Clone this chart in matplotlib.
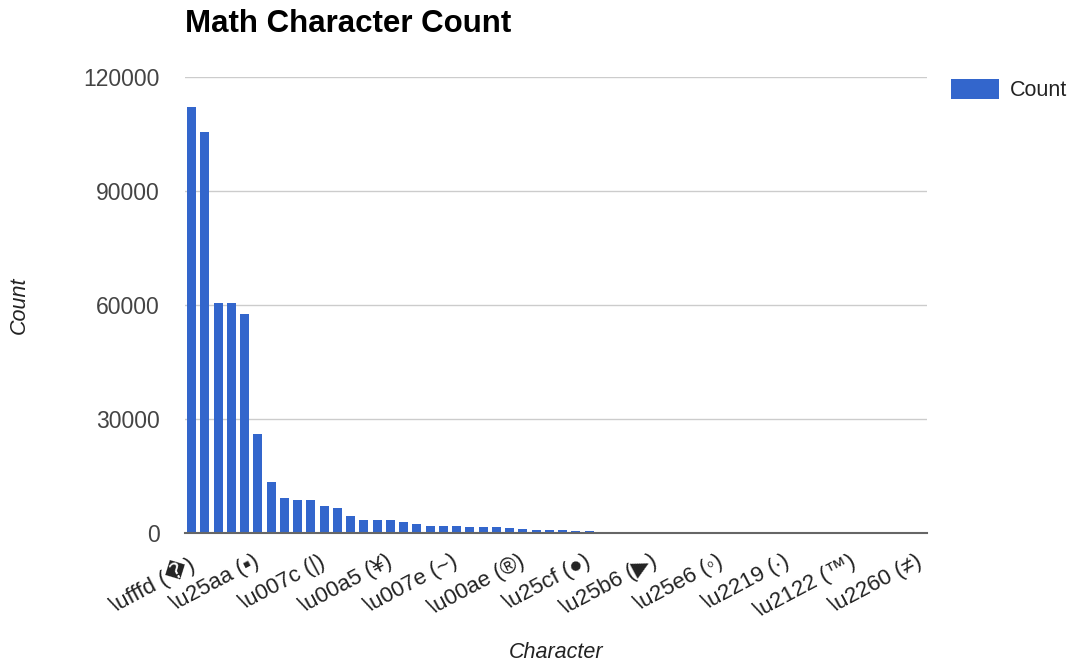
import matplotlib
matplotlib.use("Agg")
import matplotlib.pyplot as plt
import matplotlib.transforms as mtransforms
import numpy as np

plt.rcParams['font.family'] = ['Liberation Sans', 'DejaVu Sans']

# character counts, sorted high to low (one bar per character)
counts = [112000, 105500, 60400, 60400, 57600, 26000, 13400, 9300, 8800, 8800,
          7100, 6500, 4500, 3400, 3400, 3400, 2800, 2400, 1800, 1800,
          1800, 1500, 1500, 1500, 1300, 1000, 800, 900, 700, 500,
          450, 90, 80, 75, 70, 65, 60, 55, 50, 45,
          40, 38, 35, 32, 30, 28, 25, 22, 20, 18,
          15, 12, 10, 8, 6, 5]

# only every fifth character gets a label on the axis
tick_step = 5
tick_labels = ['\\ufffd (\ufffd)', '\\u25aa (\u25aa)', '\\u007c (|)', '\\u00a5 (\u00a5)',
               '\\u007e (~)', '\\u00ae (\u00ae)', '\\u25cf (\u25cf)', '\\u25b6 (\u25b6)',
               '\\u25e6 (\u25e6)', '\\u2219 (\u2219)', '\\u2122 (\u2122)', '\\u2260 (\u2260)']
y_ticks = [0, 30000, 60000, 90000, 120000]

blue = '#3366cc'
fig = plt.figure(figsize=(10.78, 6.62), dpi=100)
ax = fig.add_axes([185 / 1078, 1 - 533 / 662, (927 - 185) / 1078, (533 - 77) / 662])

x = np.arange(len(counts))
ax.bar(x, counts, width=0.68, color=blue, label='Count', zorder=3)

ax.set_xlim(-0.5, len(counts) - 0.5)
ax.set_ylim(0, 120000)
ax.set_yticks(y_ticks)
ax.set_yticklabels([str(v) for v in y_ticks], fontsize=16.5, color='#444444')
ax.tick_params(axis='y', length=0, pad=18)
ax.set_xticks(x[::tick_step])
ax.set_xticklabels(tick_labels, rotation=28, ha='right', va='top',
                   rotation_mode='anchor', fontsize=16, color='#222222')
ax.tick_params(axis='x', length=0, pad=13)

# nudge the slanted labels a little to the left
shift = mtransforms.ScaledTranslation(-5 / 100, 0, fig.dpi_scale_trans)
for lbl in ax.get_xticklabels():
    lbl.set_transform(lbl.get_transform() + shift)

ax.grid(axis='y', color='#cccccc', linewidth=1.0, zorder=0)
for s in ['top', 'right', 'left']:
    ax.spines[s].set_visible(False)
ax.spines['bottom'].set_color('#666666')
ax.spines['bottom'].set_linewidth(1.5)
ax.spines['bottom'].set_zorder(4)

fig.text(185 / 1078, 1 - 24 / 662, 'Math Character Count', fontsize=22.5,
         fontweight='bold', ha='left', va='center')
fig.text(19 / 1078, 1 - 305 / 662, 'Count', fontsize=15.5, style='italic',
         rotation=90, ha='center', va='center', color='#222222')
fig.text(556 / 1078, 1 - 652 / 662, 'Character', fontsize=15.5, style='italic',
         ha='center', va='center', color='#222222')

fig.legend(loc='upper left', bbox_to_anchor=(932 / 1078, 1 - 60 / 662),
           frameon=False, fontsize=15.5, handlelength=2.2, handleheight=1.0,
           handletextpad=0.5, labelcolor='#222222')

fig.savefig('out.png', dpi=100)
